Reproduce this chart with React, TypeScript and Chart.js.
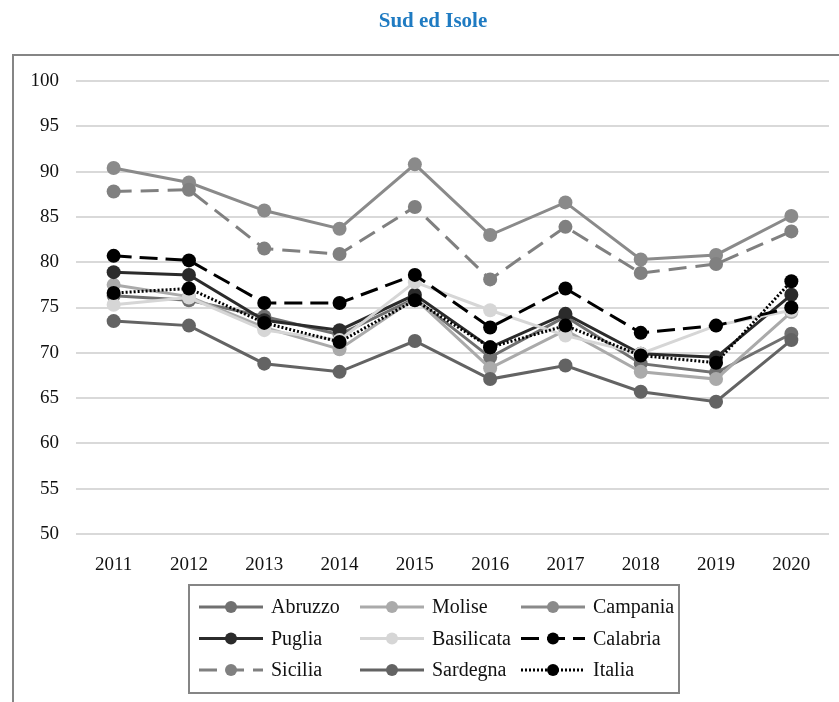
import React, { useEffect, useRef } from "react";
import { Chart, registerables } from "chart.js";

Chart.register(...registerables);

// Categories (years)
const years = ["2011", "2012", "2013", "2014", "2015", "2016", "2017", "2018", "2019", "2020"];

// Series values per region
const abruzzo = [76.3, 75.8, 74.0, 72.0, 76.0, 69.5, 74.0, 68.8, 67.8, 72.1];
const molise = [77.5, 76.2, 72.8, 70.4, 76.0, 68.3, 72.5, 67.9, 67.1, 74.5];
const campania = [90.4, 88.8, 85.7, 83.7, 90.8, 83.0, 86.6, 80.3, 80.8, 85.1];
const puglia = [78.9, 78.6, 73.6, 72.5, 76.4, 70.6, 74.3, 69.9, 69.5, 76.4];
const basilicata = [75.3, 76.1, 72.5, 71.4, 77.8, 74.7, 71.9, 69.9, 73.0, 74.7];
const calabria = [80.7, 80.2, 75.5, 75.5, 78.6, 72.8, 77.1, 72.2, 73.0, 75.0];
const sicilia = [87.8, 88.0, 81.5, 80.9, 86.1, 78.1, 83.9, 78.8, 79.8, 83.4];
const sardegna = [73.5, 73.0, 68.8, 67.9, 71.3, 67.1, 68.6, 65.7, 64.6, 71.4];
const italia = [76.6, 77.1, 73.3, 71.2, 75.8, 70.6, 73.0, 69.7, 68.9, 77.9];

// Axis
const yMin = 50;
const yMax = 100;
const yStep = 5;

const titleText = "Sud ed Isole";

const SERIF = "'Liberation Serif', 'Times New Roman', serif";

type Series = { label: string; data: number[]; color: string; dash: number[] };

const series: Series[] = [
  { label: "Abruzzo", data: abruzzo, color: "#707070", dash: [] },
  { label: "Molise", data: molise, color: "#aaaaaa", dash: [] },
  { label: "Campania", data: campania, color: "#8a8a8a", dash: [] },
  { label: "Puglia", data: puglia, color: "#2b2b2b", dash: [] },
  { label: "Basilicata", data: basilicata, color: "#d6d6d6", dash: [] },
  { label: "Calabria", data: calabria, color: "#000000", dash: [18, 8] },
  { label: "Sicilia", data: sicilia, color: "#808080", dash: [18, 9] },
  { label: "Sardegna", data: sardegna, color: "#636363", dash: [] },
  { label: "Italia", data: italia, color: "#000000", dash: [2, 2] },
];

// Outer frame + title (drawn under the chart) and the boxed 3-column legend
const decorPlugin = {
  id: "decor",
  beforeDraw(chart: any) {
    const { ctx, width, height } = chart;
    ctx.save();
    ctx.fillStyle = "#ffffff";
    ctx.fillRect(0, 0, width, height);
    // frame: only its left and top edges fall inside the canvas
    ctx.strokeStyle = "#858585";
    ctx.lineWidth = 2;
    ctx.beginPath();
    ctx.moveTo(13, height + 4);
    ctx.lineTo(13, 55);
    ctx.lineTo(width + 4, 55);
    ctx.stroke();
    // title
    ctx.font = `bold 21px ${SERIF}`;
    ctx.fillStyle = "#1f7bc2";
    ctx.textAlign = "center";
    ctx.textBaseline = "middle";
    ctx.fillText(titleText, 433, 22);
    ctx.restore();
  },
  afterDraw(chart: any) {
    const { ctx } = chart;
    const boxW = 490;
    const boxH = 108;
    const boxX = 434 - boxW / 2;
    const boxY = 585;
    ctx.save();
    ctx.strokeStyle = "#858585";
    ctx.lineWidth = 2;
    ctx.strokeRect(boxX, boxY, boxW, boxH);
    const colW = 161;
    const rowH = 31.5;
    const swatch = 64;
    chart.data.datasets.forEach((ds: any, i: number) => {
      const col = i % 3;
      const row = Math.floor(i / 3);
      const x0 = boxX + 10 + col * colW;
      const y = boxY + 22 + row * rowH;
      ctx.strokeStyle = ds.borderColor;
      ctx.lineWidth = 3;
      ctx.setLineDash(ds.borderDash || []);
      ctx.beginPath();
      ctx.moveTo(x0, y);
      ctx.lineTo(x0 + swatch, y);
      ctx.stroke();
      ctx.setLineDash([]);
      ctx.fillStyle = ds.pointBackgroundColor;
      ctx.beginPath();
      ctx.arc(x0 + swatch / 2, y, 6, 0, Math.PI * 2);
      ctx.fill();
      ctx.fillStyle = "#111111";
      ctx.font = `20px ${SERIF}`;
      ctx.textAlign = "left";
      ctx.textBaseline = "middle";
      ctx.fillText(ds.label, x0 + swatch + 8, y + 1);
    });
    ctx.restore();
  },
};

export default function App() {
  const canvasRef = useRef<HTMLCanvasElement | null>(null);

  useEffect(() => {
    if (!canvasRef.current) return;
    const n = series.length;
    const chart = new Chart(canvasRef.current, {
      type: "line",
      data: {
        labels: years,
        datasets: series.map((s, i) => ({
          label: s.label,
          data: s.data,
          borderColor: s.color,
          backgroundColor: s.color,
          pointBackgroundColor: s.color,
          pointBorderColor: s.color,
          pointBorderWidth: 0,
          pointRadius: 7,
          borderWidth: 3,
          borderDash: s.dash,
          tension: 0,
          fill: false,
          order: n - i,
        })),
      },
      options: {
        responsive: false,
        animation: false,
        devicePixelRatio: 1,
        layout: { padding: { left: 0, right: 10, top: 81, bottom: 128 } },
        plugins: {
          legend: { display: false },
          title: { display: false },
          tooltip: { enabled: false },
        },
        scales: {
          x: {
            offset: true,
            grid: { display: false },
            border: { display: false },
            ticks: { color: "#111111", font: { family: SERIF, size: 19 }, padding: 12 },
            afterFit: (s: any) => {
              s.height = 40;
            },
          },
          y: {
            min: yMin,
            max: yMax,
            ticks: { stepSize: yStep, color: "#111111", font: { family: SERIF, size: 19 }, padding: 17 },
            grid: { color: "#d9d9d9", lineWidth: 2, drawTicks: false },
            border: { display: false },
            afterFit: (s: any) => {
              s.width = 76;
            },
          },
        },
      },
      plugins: [decorPlugin],
    });
    return () => chart.destroy();
  }, []);

  return (
    <div style={{ position: "fixed", left: 0, top: 0, width: 839, height: 702, background: "#fff" }}>
      <canvas ref={canvasRef} width={839} height={702} style={{ display: "block", width: 839, height: 702 }} />
    </div>
  );
}
